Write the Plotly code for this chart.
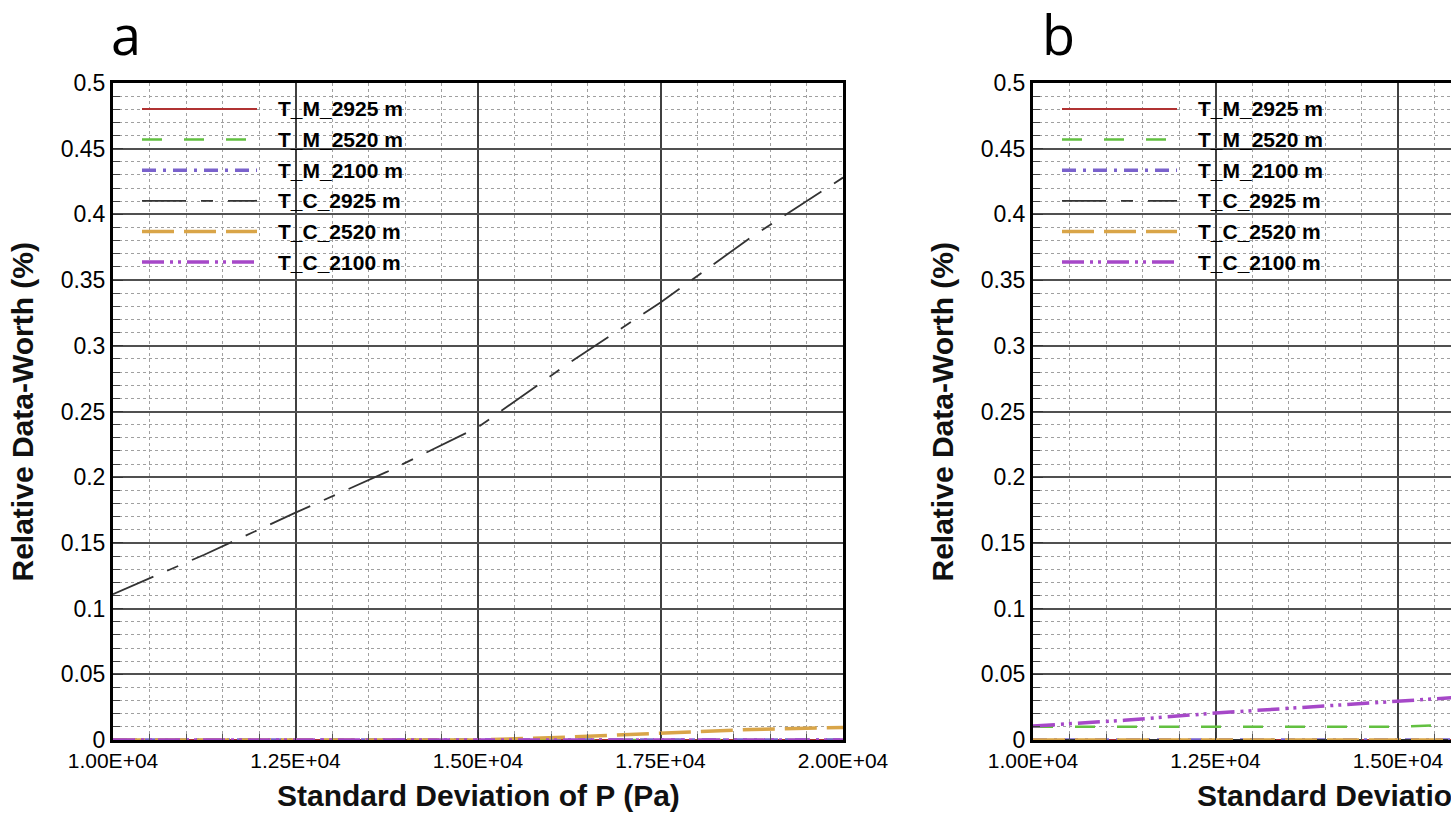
import plotly.graph_objects as go

W, H = 1451, 819

# ---- data ----
std_p = [10000, 11250, 12500, 13750, 15000, 16250, 17500, 18750, 20000]

series = ["T_M_2925 m", "T_M_2520 m", "T_M_2100 m", "T_C_2925 m", "T_C_2520 m", "T_C_2100 m"]

# panel a: relative data-worth (%)
a_tm2925 = [0, 0, 0, 0, 0, 0, 0, 0, 0]
a_tm2520 = [0, 0, 0, 0, 0, 0, 0, 0, 0]
a_tm2100 = [0, 0, 0, 0, 0, 0, 0, 0, 0]
a_tc2925 = [0.111, 0.141, 0.173, 0.204, 0.238, 0.287, 0.333, 0.383, 0.428]
a_tc2520 = [0, 0, 0, 0, 0, 0.0022, 0.005, 0.008, 0.0095]
a_tc2100 = [0, 0, 0, 0, 0, 0, 0, 0, 0]

# panel b
b_tm2925 = [0, 0, 0, 0, 0, 0, 0, 0, 0]
b_tm2520 = [0.010, 0.010, 0.010, 0.010, 0.010, 0.013, 0.015, 0.017, 0.019]
b_tm2100 = [0, 0, 0, 0, 0, 0, 0, 0, 0]
b_tc2925 = [0, 0, 0, 0, 0, 0, 0, 0, 0]
b_tc2520 = [0, 0, 0, 0, 0, 0, 0, 0, 0]
b_tc2100 = [0.0106, 0.015, 0.0205, 0.025, 0.030, 0.034, 0.038, 0.042, 0.046]

x_ticks = [10000, 12500, 15000, 17500, 20000]
x_ticktext = ["1.00E+04", "1.25E+04", "1.50E+04", "1.75E+04", "2.00E+04"]

# ---- styles ----
colors = ["#b03232", "#62c040", "#7a62cc", "#333333", "#d9a548", "#a648c8"]
dashes = ["solid", "20px,22px", "14px,7px,3px,7px", "44px,15px,12px,15px",
          "32px,10px", "22px,6px,3px,5px,3px,6px"]
widths = [2, 2.5, 3.5, 1.8, 3.5, 3.5]

SANS = "Liberation Sans, Arial, sans-serif"


def px(x):
    return x / W


def py(y):
    return 1 - y / H


# plot frames in page pixels
A_LEFT, A_RIGHT = 113, 843
B_LEFT = 1033
TOP, BOTTOM = 83, 740
# panel b axis is the same scale as a, cut off by the page edge
b_xmax = 10000 + (W - B_LEFT) / (A_RIGHT - A_LEFT) * 10000

fig = go.Figure()

data_a = [a_tm2925, a_tm2520, a_tm2100, a_tc2925, a_tc2520, a_tc2100]
data_b = [b_tm2925, b_tm2520, b_tm2100, b_tc2925, b_tc2520, b_tc2100]

for name, ys, c, d, w in zip(series, data_a, colors, dashes, widths):
    fig.add_trace(go.Scatter(x=std_p, y=ys, mode="lines", name=name,
                             line=dict(color=c, dash=d, width=w),
                             xaxis="x", yaxis="y", showlegend=False))
for name, ys, c, d, w in zip(series, data_b, colors, dashes, widths):
    fig.add_trace(go.Scatter(x=std_p, y=ys, mode="lines", name=name,
                             line=dict(color=c, dash=d, width=w),
                             xaxis="x2", yaxis="y2", showlegend=False))

xaxis_common = dict(
    tickvals=x_ticks, ticktext=x_ticktext, automargin=False,
    showgrid=True, gridcolor="#404040", gridwidth=1.5,
    showline=True, linecolor="black", linewidth=3, mirror=True,
    ticks="inside", ticklen=8, tickcolor="#333333",
    tickfont=dict(family=SANS, size=21, color="black"),
    minor=dict(tickmode="linear", tick0=10000, dtick=500, showgrid=True,
               gridcolor="#a0a0a0", griddash="dot", gridwidth=1,
               ticks="inside", ticklen=6, tickcolor="#555555"),
    zeroline=False,
)
yaxis_common = dict(
    range=[0, 0.5], tick0=0, dtick=0.05, automargin=False,
    showgrid=True, gridcolor="#505050", gridwidth=1.8,
    showline=True, linecolor="black", linewidth=3,
    ticks="inside", ticklen=10, tickcolor="#333333",
    tickfont=dict(family=SANS, size=23, color="black"),
    minor=dict(tickmode="linear", tick0=0, dtick=0.01, showgrid=True,
               gridcolor="#a0a0a0", griddash="dot", gridwidth=1,
               ticks="inside", ticklen=7, tickcolor="#444444"),
    zeroline=False,
)

fig.update_layout(
    width=W, height=H,
    margin=dict(l=0, r=0, t=0, b=0, autoexpand=False),
    paper_bgcolor="white", plot_bgcolor="white",
    xaxis=dict(xaxis_common, domain=[px(A_LEFT), px(A_RIGHT)], range=[10000, 20000], anchor="y"),
    yaxis=dict(yaxis_common, domain=[py(BOTTOM), py(TOP)], anchor="x", mirror=True),
    xaxis2=dict(xaxis_common, domain=[px(B_LEFT), 1], range=[10000, b_xmax], anchor="y2"),
    yaxis2=dict(yaxis_common, domain=[py(BOTTOM), py(TOP)], anchor="x2", mirror=False),
    showlegend=False,
)

# hand-drawn legends (long line samples like the original)
shapes = []
annotations = []
for left in (A_LEFT, B_LEFT):
    for i, (name, c, d, w) in enumerate(zip(series, colors, dashes, widths)):
        yy = 109 + 30.6 * i
        shapes.append(dict(type="line", xref="paper", yref="paper",
                           x0=px(left + 29), x1=px(left + 144), y0=py(yy), y1=py(yy),
                           line=dict(color=c, dash=d, width=w)))
        annotations.append(dict(text="<b>" + name + "</b>", xref="paper", yref="paper",
                                x=px(left + 163), y=py(yy), xanchor="left", yanchor="middle",
                                showarrow=False, font=dict(family=SANS, size=21, color="black")))

# panel letters
for letter, xc in (("a", 126), ("b", 1058)):
    annotations.append(dict(text=letter, xref="paper", yref="paper", x=px(xc), y=py(34),
                            xanchor="center", yanchor="middle", showarrow=False,
                            font=dict(family="Open Sans, sans-serif", size=54, color="black")))

# axis titles
for xc in (22, 942):
    annotations.append(dict(text="<b>Relative Data-Worth (%)</b>", xref="paper", yref="paper",
                            x=px(xc), y=py((TOP + BOTTOM) / 2), textangle=-90,
                            xanchor="center", yanchor="middle", showarrow=False,
                            font=dict(family=SANS, size=30, color="#111111")))
for xc in ((A_LEFT + A_RIGHT) / 2, B_LEFT + (A_RIGHT - A_LEFT) / 2):
    annotations.append(dict(text="<b>Standard Deviation of P (Pa)</b>", xref="paper", yref="paper",
                            x=px(xc), y=py(795), xanchor="center", yanchor="middle",
                            showarrow=False, font=dict(family=SANS, size=30, color="#111111")))

fig.update_layout(shapes=shapes, annotations=annotations)

# page body has a default margin; drop it so the figure fills the window
fig.write_html("out.html", config={"displayModeBar": False},
               post_script="document.body.style.margin='0';")
